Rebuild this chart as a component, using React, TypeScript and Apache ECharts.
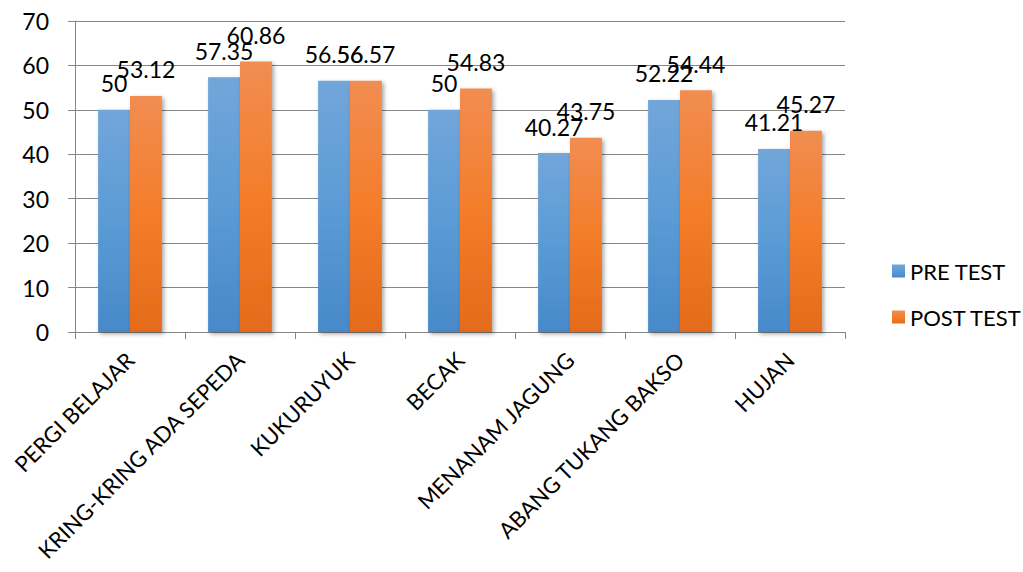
import React, { useEffect, useRef } from "react";
import * as echarts from "echarts";

const categories = [
  "PERGI BELAJAR",
  "KRING-KRING ADA SEPEDA",
  "KUKURUYUK",
  "BECAK",
  "MENANAM JAGUNG",
  "ABANG TUKANG BAKSO",
  "HUJAN",
];
const preTest = [50, 57.35, 56.56, 50, 40.27, 52.22, 41.21];
const postTest = [53.12, 60.86, 56.57, 54.83, 43.75, 54.44, 45.27];
const seriesNames = ["PRE TEST", "POST TEST"];

const FONT = "Lato, 'Open Sans', sans-serif";

export default function App() {
  const ref = useRef<HTMLDivElement>(null);
  useEffect(() => {
    if (!ref.current) return;
    const chart = echarts.init(ref.current, undefined, { renderer: "svg" });
    const grad = (top: string, mid: string, bot: string) =>
      new echarts.graphic.LinearGradient(0, 0, 0, 1, [
        { offset: 0, color: top },
        { offset: 0.5, color: mid },
        { offset: 1, color: bot },
      ]);
    const labelStyle = {
      show: true,
      position: "top" as const,
      distance: 15,
      fontSize: 23,
      color: "#000",
      fontFamily: FONT,
    };
    const itemShadow = {
      shadowBlur: 4,
      shadowColor: "rgba(0,0,0,0.35)",
      shadowOffsetX: 2,
      shadowOffsetY: 2,
    };
    chart.setOption({
      animation: false,
      textStyle: { fontFamily: FONT },
      grid: { left: 75, right: 178, top: 21, bottom: 240, containLabel: false },
      legend: {
        orient: "vertical",
        left: 887,
        top: 255,
        itemWidth: 13,
        itemHeight: 13,
        itemGap: 24,
        icon: "rect",
        textStyle: { fontSize: 22, color: "#000", fontFamily: FONT },
        data: seriesNames,
      },
      xAxis: {
        type: "category",
        data: categories,
        axisLine: { show: true, lineStyle: { color: "#868686", width: 1 } },
        axisTick: { show: true, length: 7, alignWithLabel: false, lineStyle: { color: "#868686" } },
        axisLabel: {
          rotate: 45,
          interval: 0,
          fontSize: 22,
          color: "#000",
          margin: 24,
          fontFamily: FONT,
        },
      },
      yAxis: {
        type: "value",
        min: 0,
        max: 70,
        interval: 10,
        axisLine: { show: true, lineStyle: { color: "#868686", width: 1 } },
        axisTick: { show: true, length: 7, lineStyle: { color: "#868686" } },
        axisLabel: { fontSize: 23, color: "#000", margin: 26, fontFamily: FONT },
        splitLine: { show: true, lineStyle: { color: "#868686", width: 1 } },
      },
      series: [
        {
          name: seriesNames[0],
          type: "bar",
          data: preTest,
          barGap: "0%",
          barCategoryGap: "42%",
          itemStyle: { color: grad("#72a6da", "#5b9bd5", "#4789c9"), ...itemShadow },
          label: labelStyle,
        },
        {
          name: seriesNames[1],
          type: "bar",
          data: postTest,
          barGap: "0%",
          barCategoryGap: "42%",
          itemStyle: { color: grad("#f18d52", "#f47d2a", "#e36b1a"), ...itemShadow },
          label: labelStyle,
        },
      ],
    });
    return () => chart.dispose();
  }, []);
  return (
    <div
      ref={ref}
      style={{ position: "fixed", left: 0, top: 0, width: 1023, height: 572, background: "#fff" }}
    />
  );
}
